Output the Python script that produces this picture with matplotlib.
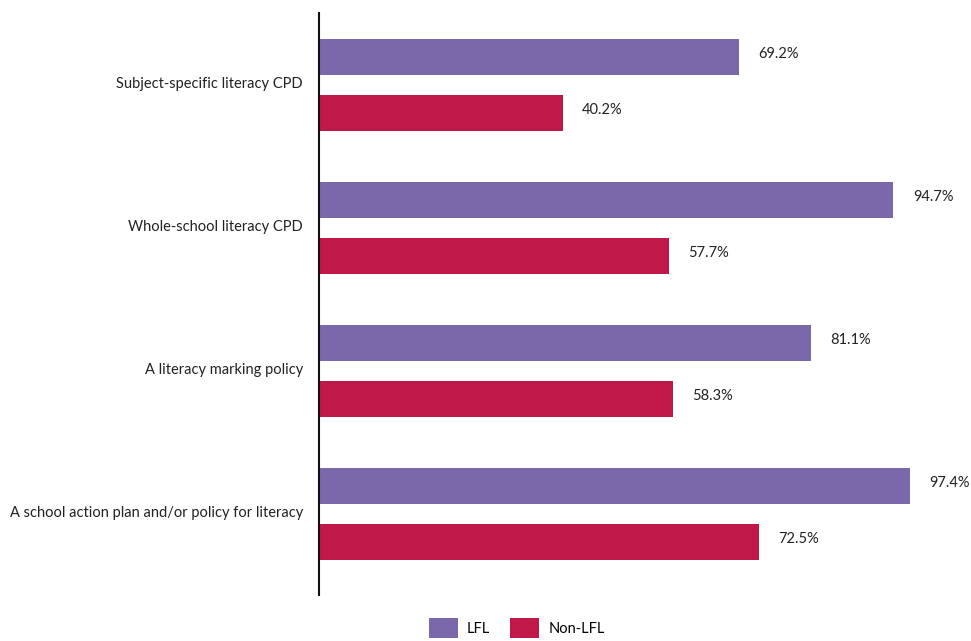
import matplotlib
matplotlib.use("Agg")
import matplotlib.pyplot as plt
import numpy as np

plt.rcParams['font.family'] = ['Lato', 'DejaVu Sans']

categories = [
    "Subject-specific literacy CPD",
    "Whole-school literacy CPD",
    "A literacy marking policy",
    "A school action plan and/or policy for literacy",
]
lfl = [69.2, 94.7, 81.1, 97.4]
non_lfl = [40.2, 57.7, 58.3, 72.5]
series_names = ["LFL", "Non-LFL"]

purple = "#7B68AB"
crimson = "#C01848"

fig = plt.figure(figsize=(9.71, 6.41), dpi=100)
ax = fig.add_axes([0.3285, 0.0718, 0.6715, 0.908])

y = np.arange(len(categories))
off = 0.196
h = 0.25
b1 = ax.barh(y - off, lfl, height=h, color=purple, label=series_names[0])
b2 = ax.barh(y + off, non_lfl, height=h, color=crimson, label=series_names[1])

for bars, vals in ((b1, lfl), (b2, non_lfl)):
    for rect, v in zip(bars, vals):
        ax.annotate(f"{v:.1f}%", xy=(v, rect.get_y() + rect.get_height() / 2),
                    xytext=(14, 2), textcoords="offset points",
                    ha="left", va="center", fontsize=10.5, color="#222222")

ax.set_xlim(0, 107.5)
ax.set_ylim(3.566, -0.503)
ax.set_yticks(y - 0.02)
ax.set_yticklabels(categories, fontsize=10.5, color="#222222")
ax.tick_params(axis="y", length=0, pad=11.5)
ax.set_xticks([])
for s in ("top", "right", "bottom"):
    ax.spines[s].set_visible(False)
ax.spines["left"].set_linewidth(1.5)
ax.spines["left"].set_color("#111111")

fig.legend(handles=[b1, b2], labels=series_names, loc="center",
           bbox_to_anchor=(0.532, 0.02), ncol=2, frameon=False,
           fontsize=10.5, handlelength=2.0, handleheight=1.7,
           handletextpad=0.6, columnspacing=1.4, borderpad=0)

fig.savefig("out.png", dpi=100)
